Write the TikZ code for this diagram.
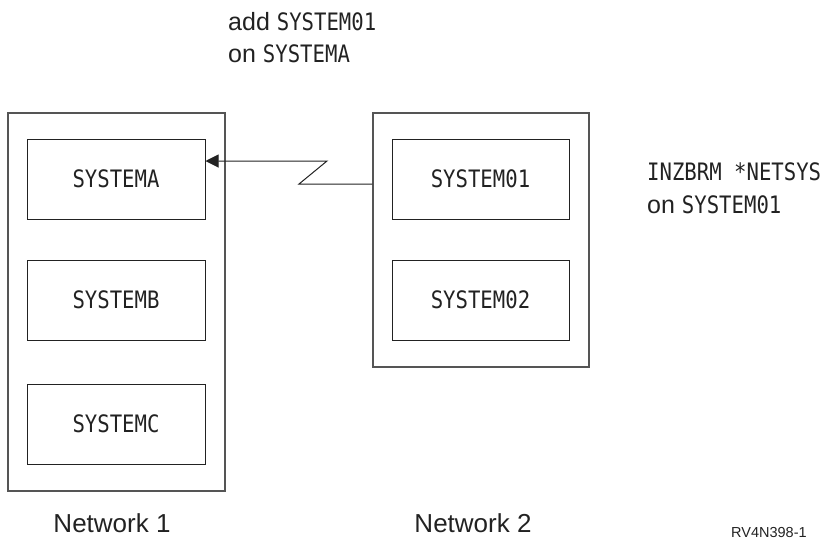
\documentclass[tikz,border=0pt]{standalone}
\usepackage{fontspec}
\setmainfont{Liberation Sans}
\newfontfamily\sysmono[FakeStretch=0.86]{DejaVu Sans Mono}
\usetikzlibrary{arrows.meta}
\definecolor{inkc}{HTML}{222222}
\definecolor{outc}{HTML}{555555}
\tikzset{
  netbox/.style={draw=outc, line width=1.1pt, rectangle, inner sep=0pt, minimum width=217pt},
  sysbox/.style={draw=inkc, line width=1pt, rectangle, inner sep=0pt, minimum width=178pt, minimum height=80pt, font=\sysmono\fontsize{24}{28}\selectfont, text=inkc},
  lab/.style={inner sep=0pt, anchor=base, font=\fontsize{26}{30}\selectfont, text=inkc},
  note/.style={inner sep=0pt, anchor=base west, font=\fontsize{25}{30}\selectfont, text=inkc},
  conn/.style={draw=inkc, line width=1pt},
  tip/.style={-{Triangle[length=13pt,width=13pt]}}
}
\begin{document}
\begin{tikzpicture}[x=1pt,y=-1pt]
\useasboundingbox (0,0) rectangle (828,542);
% network boxes
\node[netbox, minimum height=378pt] (N1) at (116.5,302) {};
\node[netbox, minimum height=254pt, minimum width=216pt] (N2) at (481,240) {};
% systems
\node[sysbox] (A) at (116,179) {SYSTEMA};
\node[sysbox] (B) at (116,300) {SYSTEMB};
\node[sysbox] (C) at (116,424) {SYSTEMC};
\node[sysbox, minimum width=177pt] (S1) at (480.5,179) {SYSTEM01};
\node[sysbox, minimum width=177pt] (S2) at (480.5,300) {SYSTEM02};
% connector
\coordinate (z1) at (299,184);
\coordinate (z2) at (327,161);
\draw[conn, tip] ([yshift=56pt]N2.west) -- (z1) -- (z2) -- ([yshift=18pt]A.east);
% labels
\node[lab] (L1) at (112,532) {Network 1};
\node[lab] (L2) at (473,532) {Network 2};
\node[inner sep=0pt, anchor=base west, font=\fontsize{14.5}{16}\selectfont, text=inkc] (ref) at (731,537) {RV4N398-1};
% notes
\node[note] (t1) at (228,30) {add {\sysmono\fontsize{24}{28}\selectfont SYSTEM01}};
\node[note] (t2) at (228,62) {on {\sysmono\fontsize{24}{28}\selectfont SYSTEMA}};
\node[note] (r1) at (647,180) {{\sysmono\fontsize{24}{28}\selectfont INZBRM *NETSYS}};
\node[note] (r2) at (647,213) {on {\sysmono\fontsize{24}{28}\selectfont SYSTEM01}};
\end{tikzpicture}
\end{document}
